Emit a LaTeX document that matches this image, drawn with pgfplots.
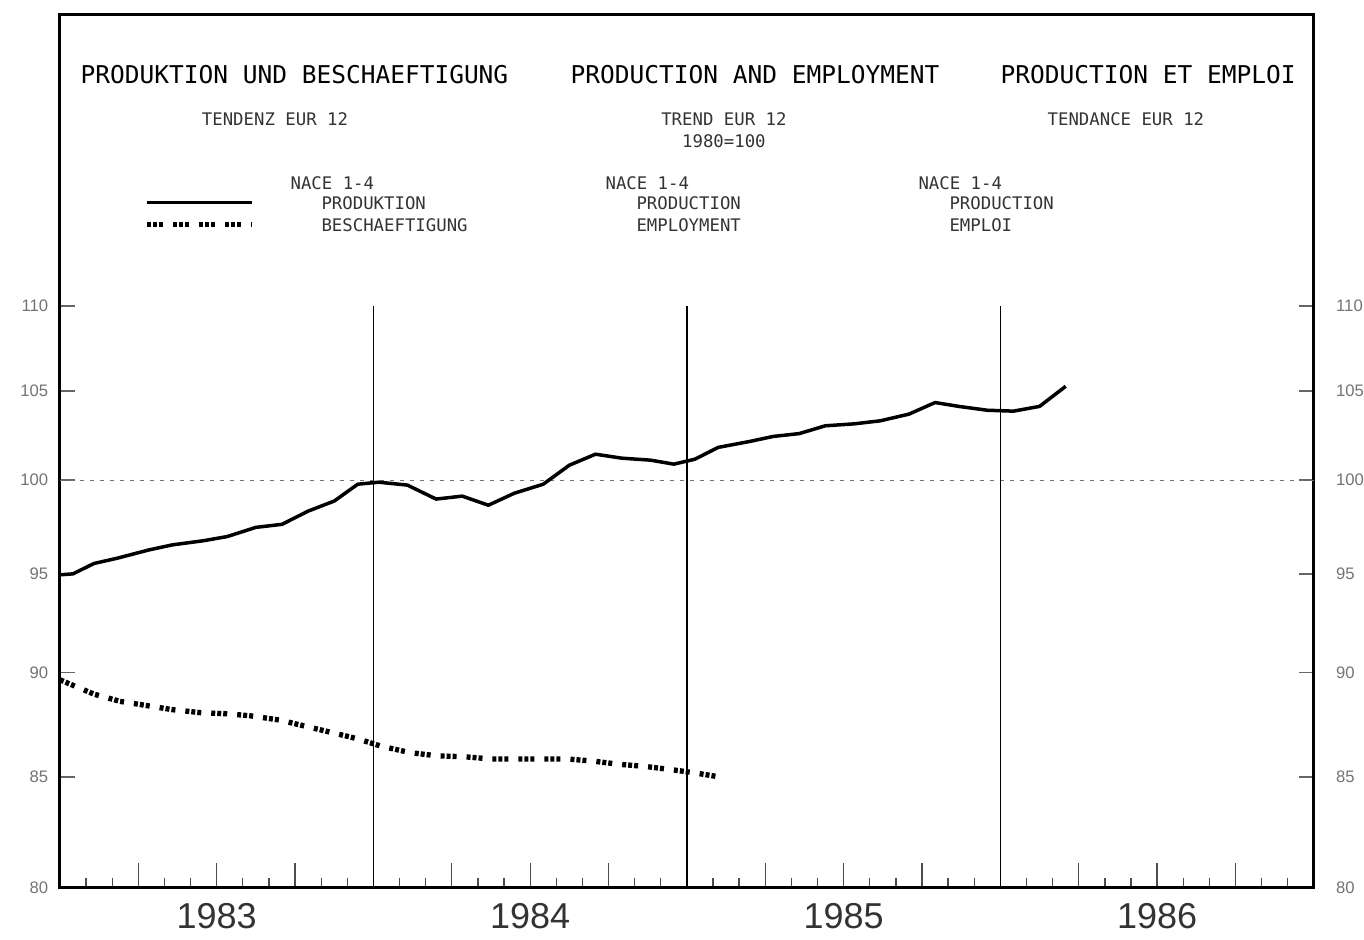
\documentclass[border=0pt]{standalone}
\usepackage{fontspec}
\setmainfont{Liberation Sans}
\newfontfamily\plotter{DejaVu Sans Mono}
\usepackage{pgfplots}
\pgfplotsset{compat=1.18}

\begin{document}
\begin{tikzpicture}
\begin{axis}[
  scale only axis, width=376.2pt, height=261.9pt,
  xmin=0, xmax=48, ymode=log, ymin=80, ymax=129,
  clip=false,
  axis line style={line width=0.9pt},
  tick align=inside,
  xtick={3,6,9,15,18,21,27,30,33,39,42,45}, xticklabels={},
  minor xtick={1,2,4,5,7,8,10,11,13,14,16,17,19,20,22,23,25,26,28,29,31,32,34,35,37,38,40,41,43,44,46,47},
  xtick pos=left,
  xtick style={/pgfplots/major tick length=7.5pt, /pgfplots/minor tick length=3pt, line width=0.4pt, black!70},
  ytick={80,85,90,95,100,105,110}, yticklabels={80,85,90,95,100,105,110},
  ytick pos=both, yticklabel pos=left,
  ytick style={/pgfplots/major tick length=4.5pt, line width=0.5pt, black!60},
  yticklabel style={font=\fontsize{5}{6}\selectfont, text=black!55},
]
% reference lines
\draw[black!55, line width=0.3pt, dash pattern=on 1.2pt off 1.8pt] (axis cs:0,100) -- (axis cs:48,100);
\draw[line width=0.4pt] (axis cs:12,80) -- (axis cs:12,110);
\draw[line width=0.4pt] (axis cs:24,80) -- (axis cs:24,110);
\draw[line width=0.4pt] (axis cs:36,80) -- (axis cs:36,110);

% production
\addplot[black, line width=1.05pt, line join=round] coordinates {
(0,94.95) (0.5,95.0) (1.3,95.54) (2.2,95.82) (3.4,96.25) (4.3,96.52) (5.5,96.74)
(6.4,96.96) (7.5,97.45) (8.5,97.61) (9.5,98.32) (10.5,98.86) (11.4,99.78)
(12.2,99.89) (13.3,99.73) (14.4,98.97) (15.4,99.13) (16.4,98.64) (17.4,99.29)
(18.5,99.78) (19.5,100.82) (20.5,101.43) (21.5,101.21) (22.6,101.10) (23.5,100.88)
(24.3,101.15) (25.2,101.81) (26.4,102.14) (27.3,102.42) (28.3,102.58) (29.3,103.02)
(30.4,103.13) (31.4,103.30) (32.5,103.68) (33.5,104.34) (34.4,104.12) (35.5,103.90)
(36.5,103.85) (37.5,104.12) (38.5,105.27)
};

% employment
\addplot[black, line width=1.6pt, dash pattern=on 1.2pt off 0.6pt on 1.2pt off 0.6pt on 1.2pt off 3pt] coordinates {
(0,89.65) (1.3,88.95) (2.3,88.6) (3.3,88.4) (4.3,88.2) (5.4,88.05) (6.4,88.0)
(7.3,87.9) (8.4,87.7) (9.4,87.4) (10.4,87.1) (11.4,86.8) (12.3,86.45) (13.4,86.15)
(14.4,86.0) (15.5,85.95) (16.5,85.85) (17.4,85.85) (18.4,85.85) (19.4,85.85)
(20.4,85.75) (21.4,85.6) (22.4,85.5) (23.4,85.35) (24.3,85.2) (25.3,85.0)
};

% right-hand tick labels
\node[anchor=west, inner sep=0pt, font=\fontsize{5}{6}\selectfont, text=black!55, xshift=6.5pt] at (axis cs:48,80) {80};
\node[anchor=west, inner sep=0pt, font=\fontsize{5}{6}\selectfont, text=black!55, xshift=6.5pt] at (axis cs:48,85) {85};
\node[anchor=west, inner sep=0pt, font=\fontsize{5}{6}\selectfont, text=black!55, xshift=6.5pt] at (axis cs:48,90) {90};
\node[anchor=west, inner sep=0pt, font=\fontsize{5}{6}\selectfont, text=black!55, xshift=6.5pt] at (axis cs:48,95) {95};
\node[anchor=west, inner sep=0pt, font=\fontsize{5}{6}\selectfont, text=black!55, xshift=6.5pt] at (axis cs:48,100) {100};
\node[anchor=west, inner sep=0pt, font=\fontsize{5}{6}\selectfont, text=black!55, xshift=6.5pt] at (axis cs:48,105) {105};
\node[anchor=west, inner sep=0pt, font=\fontsize{5}{6}\selectfont, text=black!55, xshift=6.5pt] at (axis cs:48,110) {110};

% year labels
\node[font=\fontsize{10.8}{12}\selectfont, text=black!80] at ([yshift=-8.4pt]axis cs:6,80) {1983};
\node[font=\fontsize{10.8}{12}\selectfont, text=black!80] at ([yshift=-8.4pt]axis cs:18,80) {1984};
\node[font=\fontsize{10.8}{12}\selectfont, text=black!80] at ([yshift=-8.4pt]axis cs:30,80) {1985};
\node[font=\fontsize{10.8}{12}\selectfont, text=black!80] at ([yshift=-8.4pt]axis cs:42,80) {1986};

% titles
\node[anchor=west, inner sep=0pt, font=\plotter\fontsize{7.35}{9}\selectfont] at (axis description cs:0.0159,0.9313) {PRODUKTION UND BESCHAEFTIGUNG};
\node[anchor=west, inner sep=0pt, font=\plotter\fontsize{7.35}{9}\selectfont] at (axis description cs:0.4067,0.9313) {PRODUCTION AND EMPLOYMENT};
\node[anchor=west, inner sep=0pt, font=\plotter\fontsize{7.35}{9}\selectfont] at (axis description cs:0.7496,0.9313) {PRODUCTION ET EMPLOI};

\node[inner sep=0pt, font=\plotter\fontsize{5.2}{6}\selectfont, text=black!80] at (axis description cs:0.1715,0.8809) {TENDENZ EUR 12};
\node[inner sep=0pt, font=\plotter\fontsize{5.2}{6}\selectfont, text=black!80] at (axis description cs:0.5295,0.8809) {TREND EUR 12};
\node[inner sep=0pt, font=\plotter\fontsize{5.2}{6}\selectfont, text=black!80] at (axis description cs:0.5295,0.8557) {1980=100};
\node[inner sep=0pt, font=\plotter\fontsize{5.2}{6}\selectfont, text=black!80] at (axis description cs:0.8501,0.8809) {TENDANCE EUR 12};

\node[anchor=west, inner sep=0pt, font=\plotter\fontsize{5.2}{6}\selectfont, text=black!80] at (axis description cs:0.1834,0.8076) {NACE 1-4};
\node[anchor=west, inner sep=0pt, font=\plotter\fontsize{5.2}{6}\selectfont, text=black!80] at (axis description cs:0.2081,0.7847) {PRODUKTION};
\node[anchor=west, inner sep=0pt, font=\plotter\fontsize{5.2}{6}\selectfont, text=black!80] at (axis description cs:0.2081,0.7595) {BESCHAEFTIGUNG};
\node[anchor=west, inner sep=0pt, font=\plotter\fontsize{5.2}{6}\selectfont, text=black!80] at (axis description cs:0.4346,0.8076) {NACE 1-4};
\node[anchor=west, inner sep=0pt, font=\plotter\fontsize{5.2}{6}\selectfont, text=black!80] at (axis description cs:0.4593,0.7847) {PRODUCTION};
\node[anchor=west, inner sep=0pt, font=\plotter\fontsize{5.2}{6}\selectfont, text=black!80] at (axis description cs:0.4593,0.7595) {EMPLOYMENT};
\node[anchor=west, inner sep=0pt, font=\plotter\fontsize{5.2}{6}\selectfont, text=black!80] at (axis description cs:0.6842,0.8076) {NACE 1-4};
\node[anchor=west, inner sep=0pt, font=\plotter\fontsize{5.2}{6}\selectfont, text=black!80] at (axis description cs:0.7089,0.7847) {PRODUCTION};
\node[anchor=west, inner sep=0pt, font=\plotter\fontsize{5.2}{6}\selectfont, text=black!80] at (axis description cs:0.7089,0.7595) {EMPLOI};

% legend keys
\draw[black, line width=0.9pt] (axis description cs:0.0694,0.7847) -- (axis description cs:0.1531,0.7847);
\draw[black, line width=1.6pt, dash pattern=on 1.2pt off 0.6pt on 1.2pt off 0.6pt on 1.2pt off 3pt] (axis description cs:0.0694,0.7595) -- (axis description cs:0.1531,0.7595);

% page extent
\path (axis description cs:-0.0478,-0.0481) rectangle (axis description cs:1.0399,1.0172);
\end{axis}
\end{tikzpicture}
\end{document}
